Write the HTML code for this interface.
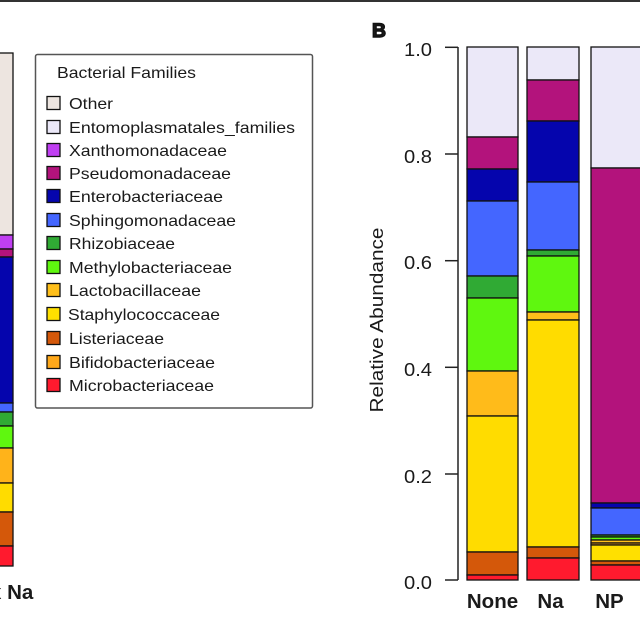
<!DOCTYPE html>
<html><head><meta charset="utf-8"><style>
html,body{margin:0;padding:0;background:#fff;}
svg{display:block;}
text{font-family:"Liberation Sans",Arial,sans-serif;fill:#1a1a1a;}
</style></head><body>
<svg width="640" height="640" viewBox="0 0 640 640" xmlns="http://www.w3.org/2000/svg">
<rect x="0" y="0" width="640" height="640" fill="#fff"/>
<rect x="0" y="0" width="640" height="2" fill="#333"/>

<!-- Left partial bar -->
<g stroke="#111" stroke-width="1.3">
<rect x="-2" y="53" width="15" height="182" fill="#ede5e0"/>
<rect x="-2" y="235" width="15" height="14" fill="#c03ff2"/>
<rect x="-2" y="249" width="15" height="8" fill="#b3137c"/>
<rect x="-2" y="257" width="15" height="146" fill="#0505ad"/>
<rect x="-2" y="403" width="15" height="9" fill="#4466ff"/>
<rect x="-2" y="412" width="15" height="14" fill="#30aa34"/>
<rect x="-2" y="426" width="15" height="22" fill="#5ff70f"/>
<rect x="-2" y="448" width="15" height="35" fill="#ffb31a"/>
<rect x="-2" y="483" width="15" height="29" fill="#ffdc00"/>
<rect x="-2" y="512" width="15" height="34" fill="#d4580a"/>
<rect x="-2" y="546" width="15" height="20" fill="#ff1a2e"/>
</g>
<text x="-10" y="599" font-size="20.5" font-weight="bold">x Na</text>

<!-- Legend -->
<rect x="35.5" y="54.5" width="277" height="353.5" rx="2" fill="#fff" stroke="#555" stroke-width="1.5"/>
<text x="57" y="78" font-size="16" textLength="139" lengthAdjust="spacingAndGlyphs">Bacterial Families</text>
<g stroke="#111" stroke-width="1.3">
<rect x="47" y="96.5" width="13" height="13" fill="#ede5e0"/>
<rect x="47" y="120.5" width="13" height="13" fill="#ebe8f8"/>
<rect x="47" y="143.5" width="13" height="13" fill="#c03ff2"/>
<rect x="47" y="166.5" width="13" height="13" fill="#b3137c"/>
<rect x="47" y="189.5" width="13" height="13" fill="#0505ad"/>
<rect x="47" y="213.5" width="13" height="13" fill="#4466ff"/>
<rect x="47" y="236.5" width="13" height="13" fill="#30aa34"/>
<rect x="47" y="260.5" width="13" height="13" fill="#5ff70f"/>
<rect x="47" y="283.5" width="13" height="13" fill="#ffbf1a"/>
<rect x="47" y="307.5" width="13" height="13" fill="#ffe000"/>
<rect x="47" y="331.5" width="13" height="13" fill="#d4580a"/>
<rect x="47" y="355.5" width="13" height="13" fill="#ffa81a"/>
<rect x="47" y="378.5" width="13" height="13" fill="#ff1a2e"/>
</g>
<g font-size="16">
<text x="69" y="109" textLength="44" lengthAdjust="spacingAndGlyphs">Other</text>
<text x="69" y="133" textLength="226" lengthAdjust="spacingAndGlyphs">Entomoplasmatales_families</text>
<text x="69" y="156" textLength="158" lengthAdjust="spacingAndGlyphs">Xanthomonadaceae</text>
<text x="69" y="179" textLength="162" lengthAdjust="spacingAndGlyphs">Pseudomonadaceae</text>
<text x="69" y="202" textLength="154" lengthAdjust="spacingAndGlyphs">Enterobacteriaceae</text>
<text x="69" y="226" textLength="167" lengthAdjust="spacingAndGlyphs">Sphingomonadaceae</text>
<text x="69" y="249" textLength="106" lengthAdjust="spacingAndGlyphs">Rhizobiaceae</text>
<text x="69" y="273" textLength="163" lengthAdjust="spacingAndGlyphs">Methylobacteriaceae</text>
<text x="69" y="296" textLength="132" lengthAdjust="spacingAndGlyphs">Lactobacillaceae</text>
<text x="68" y="320" textLength="152" lengthAdjust="spacingAndGlyphs">Staphylococcaceae</text>
<text x="69" y="344" textLength="95" lengthAdjust="spacingAndGlyphs">Listeriaceae</text>
<text x="69" y="368" textLength="146" lengthAdjust="spacingAndGlyphs">Bifidobacteriaceae</text>
<text x="69" y="391" textLength="145" lengthAdjust="spacingAndGlyphs">Microbacteriaceae</text>
</g>

<!-- Panel B -->
<text x="372" y="37" font-size="19" font-weight="bold" stroke="#111" stroke-width="1.4" textLength="14" lengthAdjust="spacingAndGlyphs">B</text>

<!-- axis -->
<g stroke="#222" stroke-width="1.5" fill="none">
<line x1="458" y1="47" x2="458" y2="580"/>
<line x1="445" y1="47.3" x2="458" y2="47.3"/>
<line x1="445" y1="154" x2="458" y2="154"/>
<line x1="445" y1="260.7" x2="458" y2="260.7"/>
<line x1="445" y1="367.3" x2="458" y2="367.3"/>
<line x1="445" y1="474" x2="458" y2="474"/>
<line x1="445" y1="580" x2="458" y2="580"/>
</g>
<g font-size="18" text-anchor="end">
<text x="432" y="56" textLength="28" lengthAdjust="spacingAndGlyphs">1.0</text>
<text x="432" y="163" textLength="28" lengthAdjust="spacingAndGlyphs">0.8</text>
<text x="432" y="269" textLength="28" lengthAdjust="spacingAndGlyphs">0.6</text>
<text x="432" y="376" textLength="28" lengthAdjust="spacingAndGlyphs">0.4</text>
<text x="432" y="483" textLength="28" lengthAdjust="spacingAndGlyphs">0.2</text>
<text x="432" y="589" textLength="28" lengthAdjust="spacingAndGlyphs">0.0</text>
</g>
<text transform="translate(383,320) rotate(-90)" font-size="18" text-anchor="middle" textLength="185" lengthAdjust="spacingAndGlyphs">Relative Abundance</text>

<!-- None bar -->
<g stroke="#111" stroke-width="1.3">
<rect x="467" y="47" width="51" height="90" fill="#ebe8f8"/>
<rect x="467" y="137" width="51" height="32" fill="#b3137c"/>
<rect x="467" y="169" width="51" height="32" fill="#0505ad"/>
<rect x="467" y="201" width="51" height="75" fill="#4466ff"/>
<rect x="467" y="276" width="51" height="22" fill="#30aa34"/>
<rect x="467" y="298" width="51" height="73" fill="#5ff70f"/>
<rect x="467" y="371" width="51" height="45" fill="#ffbb1a"/>
<rect x="467" y="416" width="51" height="136" fill="#ffdc00"/>
<rect x="467" y="552" width="51" height="23" fill="#d4580a"/>
<rect x="467" y="575" width="51" height="5" fill="#ff1a2e"/>
</g>
<!-- Na bar -->
<g stroke="#111" stroke-width="1.3">
<rect x="527" y="47" width="52" height="33" fill="#ebe8f8"/>
<rect x="527" y="80" width="52" height="41" fill="#b3137c"/>
<rect x="527" y="121" width="52" height="61" fill="#0505ad"/>
<rect x="527" y="182" width="52" height="68" fill="#4466ff"/>
<rect x="527" y="250" width="52" height="6" fill="#30aa34"/>
<rect x="527" y="256" width="52" height="56" fill="#5ff70f"/>
<rect x="527" y="312" width="52" height="8" fill="#ffbf1a"/>
<rect x="527" y="320" width="52" height="227" fill="#ffdc00"/>
<rect x="527" y="547" width="52" height="11" fill="#d4580a"/>
<rect x="527" y="558" width="52" height="22" fill="#ff1a2e"/>
</g>
<!-- NP bar -->
<g stroke="#111" stroke-width="1.3">
<rect x="591" y="47" width="60" height="121" fill="#ebe8f8"/>
<rect x="591" y="168" width="60" height="335" fill="#b3137c"/>
<rect x="591" y="503" width="60" height="5" fill="#0505ad"/>
<rect x="591" y="508" width="60" height="27" fill="#4466ff"/>
<rect x="591" y="535" width="60" height="2" fill="#30aa34"/>
<rect x="591" y="537" width="60" height="3" fill="#5ff70f"/>
<rect x="591" y="540" width="60" height="3" fill="#ffbf1a"/>
<rect x="591" y="543" width="60" height="2" fill="#ffa81a"/>
<rect x="591" y="545" width="60" height="16" fill="#ffe000"/>
<rect x="591" y="561" width="60" height="4" fill="#d4580a"/>
<rect x="591" y="565" width="60" height="15" fill="#ff1a2e"/>
</g>

<g font-size="20.5" font-weight="bold" text-anchor="middle">
<text x="492.5" y="608">None</text>
<text x="550.5" y="608">Na</text>
<text x="609.5" y="608">NP</text>
</g>
</svg>
</body></html>
